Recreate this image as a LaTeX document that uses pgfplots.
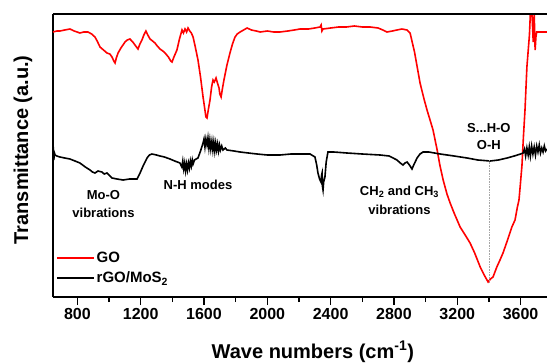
\documentclass[border=0pt]{standalone}
\usepackage{fontspec}
\setmainfont{Liberation Sans}
\usepackage{pgfplots}
\pgfplotsset{compat=1.18}
\usetikzlibrary{calc}

\begin{document}
\begin{tikzpicture}
\begin{axis}[name=ax, width=494pt, height=283pt, scale only axis,
  xmin=646, xmax=3767, ymin=0, ymax=283,
  axis x line=bottom, axis y line=left,
  axis line style={-, line width=1.8pt},
  xtick={800,1200,...,3600}, minor x tick num=1, ytick=\empty,
  tick align=outside, major tick length=8pt, minor tick length=5pt,
  every tick/.append style={black, line width=1.5pt},
  tick label style={font=\bfseries\fontsize{16}{18}\selectfont},
  /pgf/number format/assume math mode=true, /pgf/number format/1000 sep={},
  xlabel={Wave numbers (cm\textsuperscript{-1})},
  ylabel={Transmittance (a.u.)},
  label style={font=\bfseries\fontsize{20}{24}\selectfont},
  xlabel style={at={(axis description cs:0.526,-0.194)}, anchor=center},
  ylabel style={at={(axis description cs:-0.061,0.52)}, anchor=center},
  legend cell align=left,
  legend style={draw=white, fill=white, at={(axis description cs:0.004,0.1698)}, anchor=north west,
    font=\bfseries\fontsize{15}{17}\selectfont, row sep=4pt, inner sep=1pt},
  legend image post style={line width=1.8pt, xscale=2.15},
  clip=true]

\addplot[color=red, line width=1.6pt] coordinates {
(646,265) (670,266) (690,266) (720,267) (753,268) (780,266) (816,264) (840,265) (867,265)
(890,263) (911,260) (925,256) (943,250) (965,247) (987,244) (1005,243) (1019,240) (1030,236) (1038,234)
(1046,239) (1057,244) (1075,249) (1101,255) (1115,257) (1132,258) (1150,255) (1164,252) (1183,248)
(1195,253) (1208,257) (1220,262) (1233,266) (1245,262) (1259,258) (1275,256) (1290,254) (1305,251)
(1322,248) (1340,246) (1354,244) (1375,240) (1390,236) (1398,235) (1410,240) (1429,247) (1445,258)
(1461,267) (1470,264) (1480,268) (1490,265) (1499,269) (1510,266) (1520,264) (1531,260) (1545,250)
(1562,237) (1578,220) (1594,200) (1605,188) (1612,180) (1619,179) (1628,188) (1638,197) (1648,210)
(1657,217) (1665,215) (1676,219) (1685,214) (1695,209) (1700,203) (1708,200) (1716,208) (1726,217)
(1745,232) (1764,244) (1780,253) (1796,260) (1810,263) (1828,265) (1850,267) (1872,269) (1900,267)
(1930,266) (1955,265) (2000,266) (2040,265) (2080,265) (2130,266) (2170,267) (2207,268) (2260,268)
(2300,269) (2333,270) (2340,272) (2345,266) (2352,268) (2400,269) (2450,270) (2500,270) (2550,271)
(2600,270) (2649,270) (2700,269) (2730,267) (2756,265) (2790,266) (2819,267) (2850,268) (2883,267)
(2902,264) (2930,245) (2965,214) (2990,198) (3009,187) (3030,176) (3047,167) (3073,147) (3090,132)
(3111,117) (3135,103) (3155,94) (3180,84) (3199,77) (3218,70) (3250,62) (3281,54) (3310,44)
(3345,30) (3370,22) (3395,15) (3410,18) (3426,20) (3450,30) (3470,37) (3489,44) (3520,58)
(3545,70) (3565,77) (3580,90) (3590,97) (3600,115) (3609,132) (3618,160) (3628,187) (3640,230)
(3650,250) (3656,262) (3662,284) (3672,284) (3680,255) (3686,284) (3692,247) (3697,260) (3702,265)
(3730,265) (3767,265)
};
\addlegendentry{GO}

\addplot[color=black, line width=1.6pt] coordinates {
(646,138) (648,150) (651,137) (655,144) (659,142) (670,141) (690,140) (720,139) (753,138)
(785,136) (816,134) (850,130) (880,127) (895,125) (911,124) (930,126) (955,125) (970,123)
(987,124) (1000,122) (1019,119) (1050,118) (1089,117) (1130,118) (1177,118) (1196,124)
(1215,131) (1240,139) (1255,142) (1271,143) (1300,142) (1322,141) (1350,140) (1385,138)
(1415,136) (1448,134) (1460,130) (1466,136) (1472,128) (1478,134) (1484,126) (1490,133)
(1496,127) (1502,134) (1508,129) (1514,136) (1520,131) (1526,137) (1531,133) (1540,137)
(1550,138) (1562,139) (1578,146) (1594,154) (1600,158) (1606,150) (1612,158) (1619,152)
(1625,159) (1631,149) (1637,157) (1643,148) (1650,156) (1656,147) (1662,155) (1668,146)
(1674,154) (1680,147) (1686,153) (1692,146) (1698,152) (1704,147) (1712,151) (1720,147)
(1735,149) (1745,147) (1790,146) (1828,145) (1880,144) (1935,143) (2000,142) (2080,142)
(2150,143) (2220,143) (2270,143) (2301,140) (2312,132) (2320,124) (2330,118) (2339,115)
(2343,122) (2346,124) (2349,110) (2352,107) (2356,115) (2364,120) (2372,135) (2383,145)
(2420,145) (2503,144) (2600,143) (2712,142) (2770,141) (2819,137) (2840,134) (2857,132)
(2870,134) (2883,135) (2898,132) (2914,128) (2925,132) (2946,139) (2965,143) (2984,145)
(3020,145) (3092,143) (3180,141) (3262,139) (3330,137) (3408,136) (3460,137) (3515,139)
(3560,141) (3600,143) (3616,144) (3625,148) (3632,141) (3640,149) (3648,142) (3655,150)
(3662,141) (3670,151) (3678,143) (3686,150) (3694,142) (3702,151) (3710,145) (3718,152)
(3726,144) (3734,149) (3742,145) (3750,151) (3758,146) (3767,148)
};
\addlegendentry{rGO/MoS\textsubscript{2}}

\draw[line width=1.8pt] (rel axis cs:0,1) -- (rel axis cs:1,1);
\draw[densely dotted, black!35, line width=0.6pt] (axis cs:3400,137) -- (axis cs:3400,15);

\node[font=\bfseries\fontsize{13}{18}\selectfont, align=center] at (axis cs:965,93) {Mo-O\\vibrations};
\node[font=\bfseries\fontsize{13}{18}\selectfont] at (axis cs:1562,112) {N-H modes};
\node[font=\bfseries\fontsize{13}{18}\selectfont, align=center] at (axis cs:2835,97) {CH\textsubscript{2} and CH\textsubscript{3}\\[1pt]vibrations};
\node[font=\bfseries\fontsize{13}{17}\selectfont, align=center] at (axis cs:3400,160) {S...H-O\\O-H};
\end{axis}
\pgfresetboundingbox
\path[use as bounding box] ($(ax.south west)+(-53pt,-65pt)$) rectangle ($(ax.north east)+(0pt,14pt)$);
\end{tikzpicture}
\end{document}
